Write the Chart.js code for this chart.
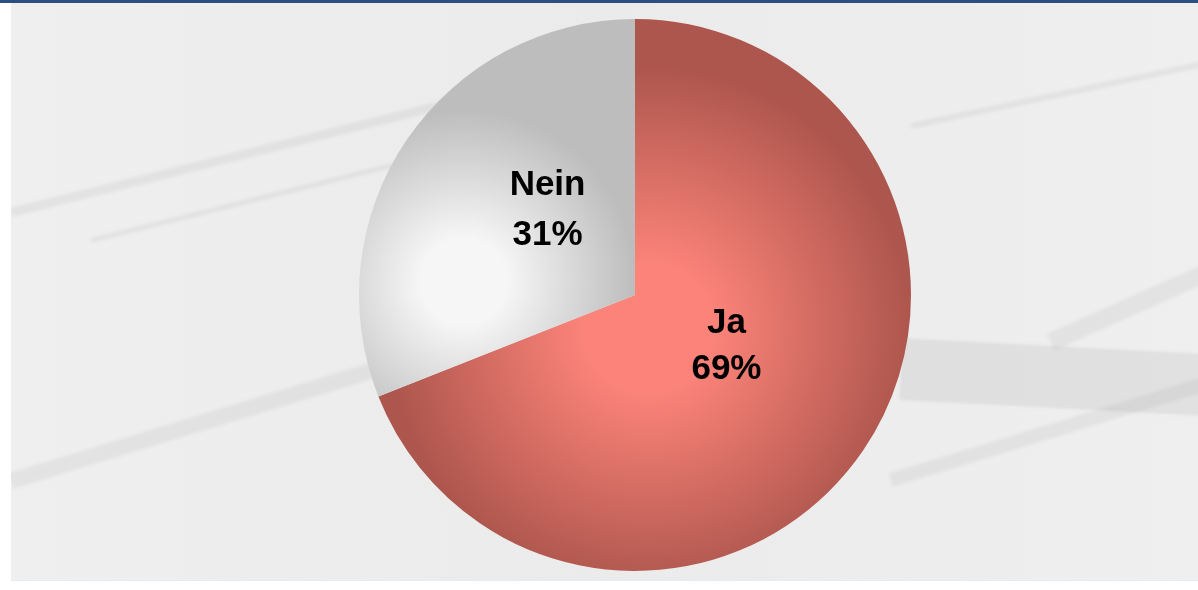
<!DOCTYPE html>
<html>
<head>
<meta charset="utf-8">
<script src="https://cdn.jsdelivr.net/npm/chart.js@4/dist/chart.umd.min.js"></script>
<style>
  html, body { margin: 0; padding: 0; background: #fff; }
  .frame {
    position: relative; width: 1198px; height: 590px; overflow: hidden; background: #fff;
  }
  .topbar { position: absolute; left: 0; top: 0; width: 1198px; height: 3px; background: #2d4f80; }
  .paper {
    position: absolute; left: 11px; top: 3px; width: 1187px; height: 577px; overflow: hidden;
    background: linear-gradient(90deg, #efefef, #ebebeb 50%, #efefef);
  }
  .band {
    position: absolute; transform-origin: 0 50%; filter: blur(1.5px);
    background: rgba(120,120,120,0.10);
  }
  .bottomline { position: absolute; left: 11px; top: 580px; width: 1187px; height: 1px; background: #e3eef3; }
  .chart-box { position: absolute; left: 359px; top: 19px; width: 552px; height: 552px; }
</style>
</head>
<body>
<div class="frame">
  <div class="topbar"></div>
  <div class="paper">
    <div class="band" style="left:0;top:205px;width:480px;height:9px;transform:rotate(-14deg)"></div>
    <div class="band" style="left:80px;top:235px;width:400px;height:5px;transform:rotate(-14deg)"></div>
    <div class="band" style="left:0;top:470px;width:480px;height:16px;transform:rotate(-17deg)"></div>
    <div class="band" style="left:880px;top:470px;width:360px;height:14px;transform:rotate(-17deg)"></div>
    <div class="band" style="left:1040px;top:330px;width:200px;height:18px;transform:rotate(-24deg)"></div>
    <div class="band" style="left:890px;top:335px;width:320px;height:62px;transform:rotate(3deg);background:rgba(150,150,150,0.16)"></div>
    <div class="band" style="left:900px;top:120px;width:320px;height:6px;transform:rotate(-12deg)"></div>
  </div>
  <div class="bottomline"></div>
  <div class="chart-box"><canvas id="pie"></canvas></div>
</div>
<script>
const labels = ['Ja', 'Nein'];
const values = [69, 31];

// slice shading: [light centre, dark edge]
const shades = [
  ['#fb8379', '#ad564d'],
  ['#f6f6f6', '#bdbdbd']
];
// highlight spot relative to pie centre (fractions of radius) and gradient reach
const highlight = [
  { x: 0.05, y: 0.12, reach: 0.95 },
  { x: -0.62, y: -0.05, reach: 0.62 }
];
// label placement: fraction of radius and angle shift (radians)
const labelPlace = [
  { r: 0.38, shift: -0.085, gap: 23 },
  { r: 0.44, shift: 0.17, gap: 25 }
];

function sliceGradient(ctx) {
  const chart = ctx.chart;
  const area = chart.chartArea;
  const i = ctx.dataIndex;
  if (!area) return shades[i][1];
  const cx = (area.left + area.right) / 2;
  const cy = (area.top + area.bottom) / 2;
  const r = Math.min(area.right - area.left, area.bottom - area.top) / 2;
  const h = highlight[i];
  const gx = cx + h.x * r;
  const gy = cy + h.y * r;
  const g = chart.ctx.createRadialGradient(gx, gy, 0, gx, gy, r * h.reach);
  g.addColorStop(0, shades[i][0]);
  g.addColorStop(0.25, shades[i][0]);
  g.addColorStop(1, shades[i][1]);
  return g;
}

const sliceLabels = {
  id: 'sliceLabels',
  afterDatasetsDraw(chart) {
    const c = chart.ctx;
    const meta = chart.getDatasetMeta(0);
    const total = values.reduce((a, b) => a + b, 0);
    meta.data.forEach((arc, i) => {
      const p = labelPlace[i];
      const mid = (arc.startAngle + arc.endAngle) / 2 + p.shift;
      const rr = arc.outerRadius * p.r;
      const x = arc.x + Math.cos(mid) * rr;
      const y = arc.y + Math.sin(mid) * rr;
      c.save();
      c.fillStyle = '#000';
      c.font = 'bold 35px "Liberation Sans", Arial, sans-serif';
      c.textAlign = 'center';
      c.textBaseline = 'middle';
      c.fillText(labels[i], x, y - p.gap);
      c.fillText(Math.round(values[i] / total * 100) + '%', x, y + p.gap);
      c.restore();
    });
  }
};

new Chart(document.getElementById('pie'), {
  type: 'pie',
  data: {
    labels: labels,
    datasets: [{
      data: values,
      backgroundColor: sliceGradient,
      borderWidth: 0
    }]
  },
  options: {
    responsive: true,
    maintainAspectRatio: false,
    animation: false,
    layout: { padding: 0 },
    plugins: {
      legend: { display: false },
      tooltip: { enabled: false }
    }
  },
  plugins: [sliceLabels]
});
</script>
</body>
</html>
